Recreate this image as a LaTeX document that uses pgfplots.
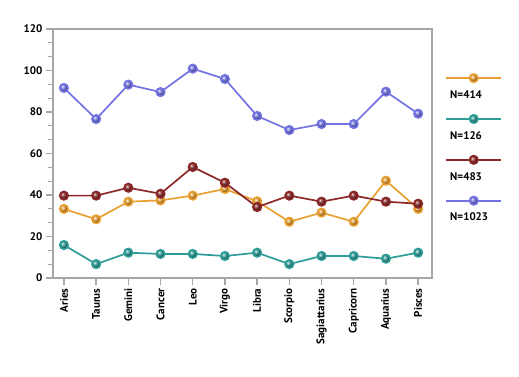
\documentclass[border=0pt]{standalone}
\usepackage{pgfplots}
\pgfplotsset{compat=1.18}
\usepackage{fontspec}
\setmainfont{PT Sans}
\definecolor{cOr}{HTML}{E9A032}
\definecolor{cTe}{HTML}{2E9D97}
\definecolor{cRe}{HTML}{8C2828}
\definecolor{cBl}{HTML}{7373E4}
\definecolor{frame}{HTML}{A6A6A6}
\begin{document}
\begin{tikzpicture}
\begin{axis}[
  scale only axis, width=379pt, height=249pt,
  xmin=-0.34, xmax=11.43, ymin=0, ymax=120,
  ytick={0,20,...,120}, minor y tick num=2,
  xtick={0,...,11},
  xticklabels={Aries,Taurus,Gemini,Cancer,Leo,Virgo,Libra,Scorpio,Sagiattarius,Capricorn,Aquarius,Pisces},
  x tick label style={rotate=90, anchor=east, font=\bfseries\fontsize{11}{13}\selectfont},
  y tick label style={font=\bfseries\fontsize{11}{13}\selectfont},
  /pgf/number format/assume math mode=true,
  xtick pos=bottom, ytick pos=left, tick align=outside,
  major tick length=7pt, minor tick length=5pt,
  tick style={draw=frame, line width=1.3pt},
  axis line style={draw=frame, line width=1.8pt},
  clip=false,
  every axis plot/.append style={line width=1.7pt, mark=ball, mark size=4.2pt},
  legend image code/.code={
    \draw[overlay,#1,mark repeat=2,mark phase=2] plot coordinates {(-3pt,17pt) (24.5pt,17pt) (52pt,17pt)};
  },
  legend style={draw=none, fill=none, at={(rel axis cs:1.045,0.758)}, anchor=north west,
    font=\bfseries\fontsize{11}{13}\selectfont, row sep=29.5pt, inner sep=0pt,
    nodes={inner sep=1pt}},
  legend cell align=left,
]
\addplot[color=cOr, mark options={ball color=cOr}] coordinates {
(0,33.3) (1,28.3) (2,36.8) (3,37.4) (4,39.7) (5,42.9) (6,37.0) (7,27.1) (8,31.5) (9,27.1) (10,46.9) (11,33.3)};
\addlegendentry{N=414}
\addplot[color=cTe, mark options={ball color=cTe}] coordinates {
(0,15.9) (1,6.7) (2,12.2) (3,11.6) (4,11.6) (5,10.6) (6,12.2) (7,6.7) (8,10.6) (9,10.6) (10,9.3) (11,12.2)};
\addlegendentry{N=126}
\addplot[color=cRe, mark options={ball color=cRe}] coordinates {
(0,39.7) (1,39.7) (2,43.5) (3,40.6) (4,53.5) (5,45.9) (6,34.2) (7,39.7) (8,36.8) (9,39.7) (10,36.8) (11,35.8)};
\addlegendentry{N=483}
\addplot[color=cBl, mark options={ball color=cBl}] coordinates {
(0,91.6) (1,76.6) (2,93.2) (3,89.6) (4,100.9) (5,95.9) (6,78.1) (7,71.3) (8,74.2) (9,74.2) (10,89.8) (11,79.2)};
\addlegendentry{N=1023}
\path (rel axis cs:-0.1398,-0.3936) rectangle (rel axis cs:1.2296,1.1165);
\end{axis}
\end{tikzpicture}
\end{document}
